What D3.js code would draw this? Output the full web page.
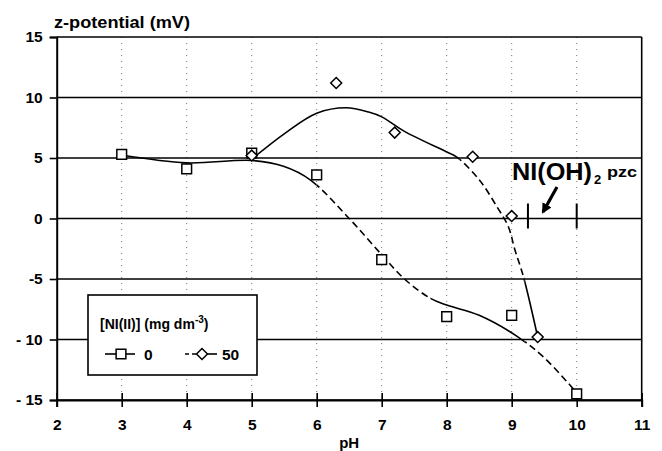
<!DOCTYPE html>
<html>
<head>
<meta charset="utf-8">
<script src="https://cdn.jsdelivr.net/npm/d3@7"></script>
<style>
  html, body { margin: 0; padding: 0; background: #fff; }
  svg { display: block; }
  text { font-family: "Liberation Sans", Arial, Helvetica, sans-serif; font-weight: bold; fill: #000; }
</style>
</head>
<body>
<svg id="chart" width="662" height="451"></svg>
<script>
// Measured points: zeta potential vs pH for two Ni(II) concentrations
const ph0 = [3, 4, 5, 6, 7, 8, 9, 10];
const zeta0 = [5.3, 4.1, 5.4, 3.6, -3.4, -8.1, -8.0, -14.5];
const ph50 = [5, 6.3, 7.2, 8.4, 9.0, 9.4];
const zeta50 = [5.2, 11.2, 7.1, 5.1, 0.2, -9.8];

// Smoothed trend curves
const fitPh0 = [3, 4, 5, 5.5, 5.9, 6.5, 7, 7.35, 7.75, 8, 8.5, 9.1, 9.5, 10];
const fitZeta0 = [5.25, 4.6, 4.8, 4.3, 3.2, 0, -3.0, -5.0, -6.6, -7.15, -8.0, -9.8, -11.5, -14.4];
const fitPh50 = [5, 5.5, 6, 6.45, 6.8, 7.0, 7.35, 8.0, 8.15, 8.5, 8.77, 8.95, 9.05, 9.18, 9.4];
const fitZeta50 = [4.9, 7.0, 8.7, 9.15, 8.8, 8.4, 7.2, 5.5, 5.1, 3.2, 1.0, -0.7, -2.6, -4.8, -9.8];

// pH ranges where each trend curve is drawn dashed
const dashed0 = [[6.0, 7.75], [9.2, 10]];
const dashed50 = [[8.2, 9.2]];

// Ni(OH)2 point of zero charge range
const pzcRange = [9.25, 10];

const xTicks = [2, 3, 4, 5, 6, 7, 8, 9, 10, 11];
const yTicks = [-15, -10, -5, 0, 5, 10, 15];
const yTickLabels = ["- 15", "- 10", "-5", "0", "5", "10", "15"];
const seriesNames = ["0", "50"];

const svg = d3.select("#chart");
const x = d3.scaleLinear().domain([2, 11]).range([56.7, 641.7]);
const y = d3.scaleLinear().domain([-15, 15]).range([400, 37]);

// square-proportioned diamond marker
const diamondType = {
  draw(ctx, size) {
    const r = Math.sqrt(size / 2);
    ctx.moveTo(0, -r); ctx.lineTo(r, 0); ctx.lineTo(0, r); ctx.lineTo(-r, 0); ctx.closePath();
  }
};

// vertical dotted grid
svg.append("g").selectAll("line")
  .data(xTicks.filter(t => t > 2 && t < 11))
  .join("line")
  .attr("x1", d => x(d)).attr("x2", d => x(d))
  .attr("y1", y(15)).attr("y2", y(-15))
  .attr("stroke", "#777").attr("stroke-width", 1)
  .attr("stroke-dasharray", "1,5");

// horizontal grid lines
svg.append("g").selectAll("line")
  .data(yTicks)
  .join("line")
  .attr("x1", x(2)).attr("x2", x(11))
  .attr("y1", d => y(d)).attr("y2", d => y(d))
  .attr("stroke", "#000").attr("stroke-width", 1.6);

// right border
svg.append("line")
  .attr("x1", x(11)).attr("x2", x(11))
  .attr("y1", y(15)).attr("y2", y(-15))
  .attr("stroke", "#000").attr("stroke-width", 1.6);

// y axis
const yAxis = d3.axisLeft(y).tickValues(yTicks).tickSize(7).tickPadding(7)
  .tickFormat((d, i) => yTickLabels[i]);
const gy = svg.append("g").attr("transform", `translate(${x(2)},0)`).call(yAxis);
gy.select(".domain").attr("stroke-width", 2);
gy.selectAll(".tick line").attr("stroke-width", 1.6);
gy.selectAll("text").attr("font-size", 15.5).attr("font-family", null);

// x axis (ticks cross the axis line)
const xAxis = d3.axisBottom(x).tickValues(xTicks).tickSize(7).tickPadding(12)
  .tickFormat(d3.format("d"));
const gx = svg.append("g").attr("transform", `translate(0,${y(-15)})`).call(xAxis);
gx.select(".domain").attr("stroke-width", 2);
gx.selectAll(".tick line").attr("y1", -7).attr("stroke-width", 1.6);
gx.selectAll("text").attr("font-size", 15.5).attr("font-family", null);

// axis titles
svg.append("text").attr("x", 54).attr("y", 28).attr("font-size", 16)
  .attr("textLength", 136).attr("lengthAdjust", "spacingAndGlyphs").text("z-potential (mV)");
svg.append("text").attr("x", (x(6) + x(7)) / 2).attr("y", 448).attr("text-anchor", "middle")
  .attr("font-size", 15).text("pH");

// trend curves, split into solid and dashed pieces by clipping
const line = d3.line().x(d => x(d[0])).y(d => y(d[1])).curve(d3.curveCatmullRom.alpha(0.5));
const defs = svg.append("defs");

function drawCurve(id, phs, zs, dashRanges) {
  const pts = phs.map((p, i) => [p, zs[i]]);
  const lo = phs[0], hi = phs[phs.length - 1];
  // solid pieces are the gaps between dashed ranges
  const solid = [];
  let start = lo - 0.2;
  dashRanges.forEach(r => { solid.push([start, r[0]]); start = r[1]; });
  solid.push([start, hi + 0.2]);
  const mk = (name, ranges) => {
    const cp = defs.append("clipPath").attr("id", name);
    ranges.forEach(r => cp.append("rect")
      .attr("x", x(r[0])).attr("width", x(r[1]) - x(r[0]))
      .attr("y", 0).attr("height", 451));
  };
  mk(id + "-solid", solid);
  mk(id + "-dash", dashRanges);
  svg.append("path").datum(pts).attr("d", line)
    .attr("fill", "none").attr("stroke", "#000").attr("stroke-width", 1.6)
    .attr("clip-path", `url(#${id}-solid)`);
  svg.append("path").datum(pts).attr("d", line)
    .attr("fill", "none").attr("stroke", "#000").attr("stroke-width", 1.6)
    .attr("stroke-dasharray", "7,4")
    .attr("clip-path", `url(#${id}-dash)`);
}
drawCurve("c0", fitPh0, fitZeta0, dashed0);
drawCurve("c50", fitPh50, fitZeta50, dashed50);

// markers
const sq = d3.symbol().type(d3.symbolSquare).size(95);
const dm = d3.symbol().type(diamondType).size(60);
svg.append("g").selectAll("path")
  .data(ph0.map((p, i) => [p, zeta0[i]]))
  .join("path")
  .attr("d", sq)
  .attr("transform", d => `translate(${x(d[0])},${y(d[1])})`)
  .attr("fill", "#fff").attr("stroke", "#000").attr("stroke-width", 1.5);
svg.append("g").selectAll("path")
  .data(ph50.map((p, i) => [p, zeta50[i]]))
  .join("path")
  .attr("d", dm)
  .attr("transform", d => `translate(${x(d[0])},${y(d[1])})`)
  .attr("fill", "#fff").attr("stroke", "#000").attr("stroke-width", 1.5);

// Ni(OH)2 pzc annotation
svg.append("g").selectAll("line")
  .data(pzcRange)
  .join("line")
  .attr("x1", d => x(d)).attr("x2", d => x(d))
  .attr("y1", y(0) - 15).attr("y2", y(0) + 10)
  .attr("stroke", "#000").attr("stroke-width", 2);
svg.append("text").attr("x", 512).attr("y", 180).attr("font-size", 24)
  .attr("textLength", 80).attr("lengthAdjust", "spacingAndGlyphs").text("NI(OH)");
svg.append("text").attr("x", 594).attr("y", 184).attr("font-size", 13).text("2");
svg.append("text").attr("x", 607).attr("y", 177).attr("font-size", 14)
  .attr("textLength", 30).attr("lengthAdjust", "spacingAndGlyphs").text("pzc");
defs.append("marker").attr("id", "arrow").attr("viewBox", "0 0 10 10")
  .attr("refX", 8).attr("refY", 5).attr("markerWidth", 3.2).attr("markerHeight", 3.2)
  .attr("orient", "auto")
  .append("path").attr("d", "M0,0 L10,5 L0,10 z").attr("fill", "#000");
svg.append("line")
  .attr("x1", 557).attr("y1", 187).attr("x2", 543).attr("y2", 212)
  .attr("stroke", "#000").attr("stroke-width", 3.2)
  .attr("marker-end", "url(#arrow)");

// legend
const lg = svg.append("g");
lg.append("rect").attr("x", 88).attr("y", 295).attr("width", 169).attr("height", 80)
  .attr("fill", "#fff").attr("stroke", "#000").attr("stroke-width", 1.6);
const lt = lg.append("text").attr("x", 100).attr("y", 329).attr("font-size", 14);
lt.append("tspan").text("[NI(II)] (mg dm");
lt.append("tspan").attr("font-size", 10).attr("dy", -6).text("-3");
lt.append("tspan").attr("dy", 6).text(")");
// series 0 key
lg.append("line").attr("x1", 105).attr("x2", 135).attr("y1", 354).attr("y2", 354)
  .attr("stroke", "#000").attr("stroke-width", 1.6);
lg.append("path").attr("d", sq).attr("transform", "translate(121,354)")
  .attr("fill", "#fff").attr("stroke", "#000").attr("stroke-width", 1.5);
lg.append("text").attr("x", 144).attr("y", 359.5).attr("font-size", 15.5).text(seriesNames[0]);
// series 50 key
lg.append("line").attr("x1", 185).attr("x2", 200).attr("y1", 354).attr("y2", 354)
  .attr("stroke", "#000").attr("stroke-width", 1.6).attr("stroke-dasharray", "4,3");
lg.append("line").attr("x1", 200).attr("x2", 217).attr("y1", 354).attr("y2", 354)
  .attr("stroke", "#000").attr("stroke-width", 1.6);
lg.append("path").attr("d", dm).attr("transform", "translate(202,354)")
  .attr("fill", "#fff").attr("stroke", "#000").attr("stroke-width", 1.5);
lg.append("text").attr("x", 222).attr("y", 359.5).attr("font-size", 15.5).text(seriesNames[1]);
</script>
</body>
</html>
